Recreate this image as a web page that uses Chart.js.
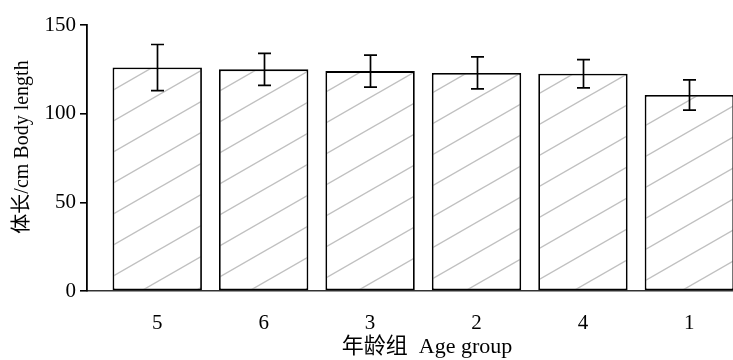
<!DOCTYPE html>
<html>
<head>
<meta charset="utf-8">
<script src="https://cdn.jsdelivr.net/npm/chart.js@4/dist/chart.umd.min.js"></script>
<style>
  html, body { margin: 0; padding: 0; background: #fff; }
  #wrap { width: 733px; height: 360px; }
</style>
</head>
<body>
<div id="wrap"><canvas id="c" width="733" height="360"></canvas></div>
<script>
// Body length (cm) by age group: mean and standard deviation
const ageGroups = ['5', '6', '3', '2', '4', '1'];
const bodyLength = [126, 125, 124, 123, 122.5, 110.5];
const bodyLengthSD = [13, 9, 9, 9, 8, 8.5];
const yTickValues = [0, 50, 100, 150];
const xAxisTitle = '年龄组  Age group';
const yAxisTitle = '体长/cm Body length';

const FONT = '"Liberation Serif", "Times New Roman", "Noto Sans CJK SC", serif';

// Diagonal hatch fill for the bars
function makeHatch() {
  const w = 54, h = 31;
  const tile = document.createElement('canvas');
  tile.width = w; tile.height = h;
  const g = tile.getContext('2d');
  g.fillStyle = '#ffffff';
  g.fillRect(0, 0, w, h);
  g.strokeStyle = '#c0c0c0';
  g.lineWidth = 1.4;
  for (let k = -1; k <= 1; k++) {
    g.beginPath();
    g.moveTo(-2, h + 2 * h / w + k * h);
    g.lineTo(w + 2, -2 * h / w + k * h);
    g.stroke();
  }
  return g.createPattern(tile, 'repeat');
}

// Mean ± SD whiskers on top of each bar
const errorBars = {
  id: 'errorBars',
  afterDatasetsDraw(chart) {
    const meta = chart.getDatasetMeta(0);
    const y = chart.scales.y;
    const ctx = chart.ctx;
    ctx.save();
    ctx.strokeStyle = '#000';
    ctx.lineWidth = 1.7;
    meta.data.forEach((bar, i) => {
      const top = y.getPixelForValue(bodyLength[i] + bodyLengthSD[i]);
      const bot = y.getPixelForValue(bodyLength[i] - bodyLengthSD[i]);
      const cx = Math.round(bar.x) + 0.5;
      const cap = 6.5;
      ctx.beginPath();
      ctx.moveTo(cx, top); ctx.lineTo(cx, bot);
      ctx.moveTo(cx - cap, top); ctx.lineTo(cx + cap, top);
      ctx.moveTo(cx - cap, bot); ctx.lineTo(cx + cap, bot);
      ctx.stroke();
    });
    ctx.restore();
  }
};

// Axis captions
const axisCaptions = {
  id: 'axisCaptions',
  afterDraw(chart) {
    const ctx = chart.ctx;
    ctx.save();
    ctx.fillStyle = '#000';
    ctx.textAlign = 'center';
    ctx.textBaseline = 'middle';
    ctx.font = '22px ' + FONT;
    ctx.fillText(xAxisTitle, 427, 347);
    ctx.font = '20px ' + FONT;
    ctx.translate(23, 147);
    ctx.rotate(-Math.PI / 2);
    ctx.fillText(yAxisTitle, 0, 0);
    ctx.restore();
  }
};

new Chart(document.getElementById('c'), {
  type: 'bar',
  data: {
    datasets: [{
      data: bodyLength.map((v, i) => ({ x: i + 1, y: v })),
      backgroundColor: makeHatch(),
      borderColor: '#000',
      borderWidth: 1.8,
      borderSkipped: false,
      categoryPercentage: 1,
      barPercentage: 0.84
    }]
  },
  options: {
    responsive: false,
    animation: false,
    layout: { padding: { top: 25, right: 0, bottom: 0, left: 0 } },
    plugins: { legend: { display: false }, tooltip: { enabled: false } },
    scales: {
      x: {
        type: 'linear',
        offset: false,
        min: 0.34,
        max: 6.41,
        afterBuildTicks(axis) { axis.ticks = ageGroups.map((_, i) => ({ value: i + 1 })); },
        afterFit(axis) { axis.height = 69; },
        grid: { display: false, drawTicks: false },
        border: { display: true, color: '#333', width: 1.4 },
        ticks: {
          padding: 20,
          autoSkip: false,
          maxRotation: 0,
          color: '#000',
          font: { family: FONT, size: 21 },
          callback: (v) => ageGroups[v - 1]
        }
      },
      y: {
        min: 0,
        max: 150,
        afterBuildTicks(axis) { axis.ticks = yTickValues.map(v => ({ value: v })); },
        afterFit(axis) { axis.width = 87; },
        grid: { drawOnChartArea: false, drawTicks: true, tickLength: 7, color: '#000', lineWidth: 1.6 },
        border: { display: true, color: '#000', width: 1.8 },
        ticks: {
          padding: 4,
          color: '#000',
          font: { family: FONT, size: 21 }
        }
      }
    }
  },
  plugins: [errorBars, axisCaptions]
});
</script>
</body>
</html>
